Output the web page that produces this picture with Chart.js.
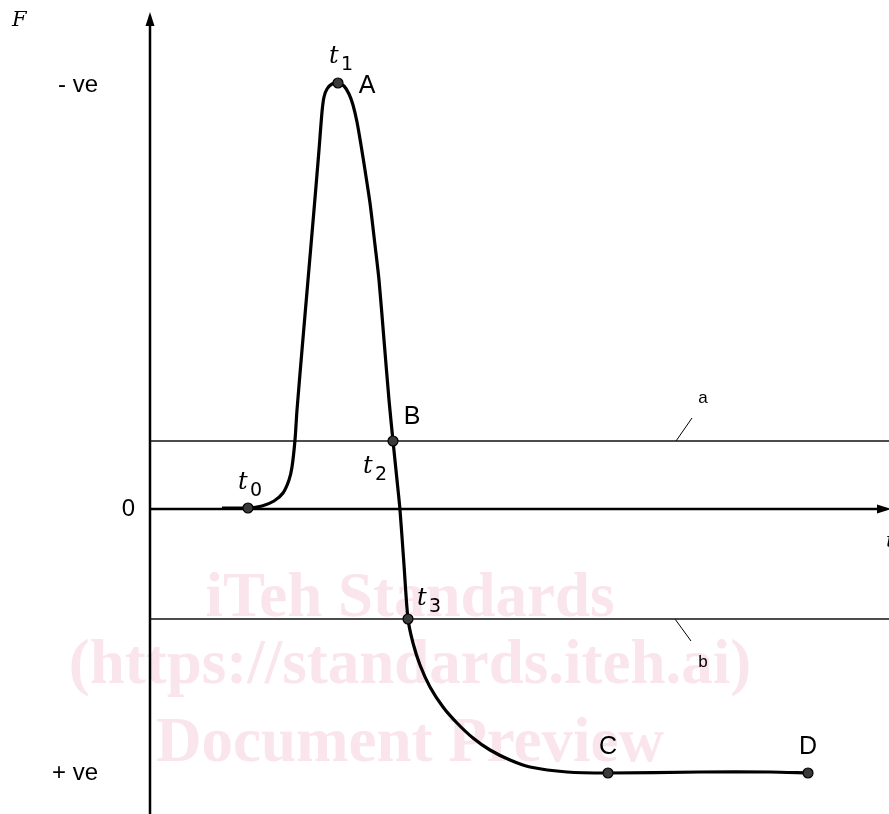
<!DOCTYPE html>
<html>
<head>
<meta charset="utf-8">
<script src="https://cdn.jsdelivr.net/npm/chart.js"></script>
<style>
  html, body { margin: 0; padding: 0; background: #fff; overflow: hidden; }
  canvas { display: block; }
</style>
</head>
<body>
<canvas id="myChart" width="889" height="814"></canvas>
<script>
// 시간 (임의 단위) 과 힘 F (위쪽이 - ve)
const timeValues = [7.2, 9.8, 11.2, 12.4, 13.3, 13.9, 14.2, 14.5, 14.7, 15.2, 15.8, 16.4, 16.9, 17.2, 17.4, 17.7, 18.2, 18.8,
  19.4, 19.9, 20.3, 20.7, 21.1, 21.5, 22.0, 22.5, 22.9, 23.4, 23.9, 24.3, 24.7, 25.0, 25.4, 25.8,
  26.3, 27.0, 28.0, 29.3, 30.7, 32.3, 34.0, 36.0, 38.0, 41.7, 45.8, 55.0, 62.0, 65.8];
const forceValues = [-0.1, -0.1, -0.3, -0.8, -1.6, -2.9, -4.2, -6.9, -9.9, -15.9, -22.9, -29.9, -35.9, -39.7, -41.2, -42.0, -42.5, -42.6,
  -42.3, -41.5, -40.4, -38.7, -36.4, -33.9, -30.6, -26.4, -22.9, -16.9, -10.9, -6.8, -2.9, 0.1, 5.6, 11.0,
  13.4, 15.6, 17.8, 19.8, 21.4, 22.9, 24.1, 25.1, 25.8, 26.3, 26.4, 26.3, 26.3, 26.4];

// 표시점 t0, A(t1), B(t2), t3, C, D
const markerNames = ['t0', 'A', 'B', 't3', 'C', 'D'];
const markerTimes = [9.8, 18.8, 24.3, 25.8, 45.8, 65.8];
const markerForces = [-0.1, -42.6, -6.8, 11.0, 26.4, 26.4];

// 기준선 a, b
const levelNames = ['a', 'b'];
const levelForces = [-6.8, 11.0];

const axisLabels = { top: '- ve', zero: '0', bottom: '+ ve', y: 'F', x: 't' };
const watermarkLines = ['iTeh Standards', '(https://standards.iteh.ai)', 'Document Preview'];

const xMin = 0, xMax = 73.9;
const yMin = -49.7, yMax = 30.5;

const SANS = '"Liberation Sans", Arial, sans-serif';
Chart.defaults.font.family = SANS;

const curve = timeValues.map((t, i) => ({ x: t, y: forceValues[i] }));
const markers = markerTimes.map((t, i) => ({ x: t, y: markerForces[i] }));

const levelSets = levelForces.map(f => ({
  type: 'line',
  data: [{ x: xMin, y: f }, { x: xMax, y: f }],
  borderColor: '#111',
  borderWidth: 1.3,
  pointRadius: 0,
  order: 3
}));

function drawT(ctx, sub, x, y) {
  ctx.font = 'italic 24px "DejaVu Serif", serif';
  ctx.textAlign = 'left';
  ctx.textBaseline = 'alphabetic';
  ctx.fillText('t', x, y);
  ctx.font = '19px "DejaVu Sans", sans-serif';
  ctx.fillText(sub, x + 12, y + 7);
}

const decor = {
  id: 'decor',
  beforeDatasetsDraw(chart) {
    const ctx = chart.ctx;
    const xs = chart.scales.x, ys = chart.scales.y;
    const cx = xs.getPixelForValue(26.0);
    ctx.save();
    // 워터마크
    ctx.fillStyle = 'rgba(232, 150, 175, 0.25)';
    ctx.font = 'bold 63px "Liberation Serif", "Times New Roman", serif';
    ctx.textAlign = 'center';
    ctx.textBaseline = 'middle';
    ctx.fillText(watermarkLines[0], cx, ys.getPixelForValue(9.1));
    ctx.fillText(watermarkLines[1], cx, ys.getPixelForValue(15.8));
    ctx.fillText(watermarkLines[2], cx, ys.getPixelForValue(23.6));

    // 축
    const x0 = xs.getPixelForValue(0);
    const y0 = ys.getPixelForValue(0);
    ctx.strokeStyle = '#000';
    ctx.fillStyle = '#000';
    ctx.lineWidth = 2.5;
    ctx.beginPath();
    ctx.moveTo(x0, chart.height);
    ctx.lineTo(x0, ys.top + 8);
    ctx.moveTo(x0, y0);
    ctx.lineTo(xs.right - 8, y0);
    ctx.stroke();
    ctx.beginPath();
    ctx.moveTo(x0, ys.top);
    ctx.lineTo(x0 - 4.5, ys.top + 14);
    ctx.lineTo(x0 + 4.5, ys.top + 14);
    ctx.closePath();
    ctx.fill();
    ctx.beginPath();
    ctx.moveTo(xs.right + 2, y0);
    ctx.lineTo(xs.right - 12, y0 - 4.5);
    ctx.lineTo(xs.right - 12, y0 + 4.5);
    ctx.closePath();
    ctx.fill();

    // a, b 지시선
    const lx = xs.getPixelForValue(52.6);
    ctx.lineWidth = 1;
    ctx.beginPath();
    const ya = ys.getPixelForValue(levelForces[0]);
    const yb = ys.getPixelForValue(levelForces[1]);
    ctx.moveTo(lx, ya);
    ctx.lineTo(lx + 16, ya - 23);
    ctx.moveTo(lx - 1, yb);
    ctx.lineTo(lx + 15, yb + 22);
    ctx.stroke();
    ctx.font = '17px ' + SANS;
    ctx.textAlign = 'center';
    ctx.textBaseline = 'middle';
    ctx.fillText(levelNames[0], lx + 27, ya - 43);
    ctx.fillText(levelNames[1], lx + 27, yb + 43);
    ctx.restore();
  },
  afterDraw(chart) {
    const ctx = chart.ctx;
    const xs = chart.scales.x, ys = chart.scales.y;
    ctx.save();
    ctx.fillStyle = '#000';
    ctx.font = '24px ' + SANS;
    ctx.textBaseline = 'middle';
    ctx.textAlign = 'right';
    ctx.fillText(axisLabels.top, 98, ys.getPixelForValue(-42.4));
    ctx.fillText(axisLabels.zero, 135, ys.getPixelForValue(0));
    ctx.fillText(axisLabels.bottom, 98, ys.getPixelForValue(26.4));

    ctx.font = 'italic 21px "DejaVu Serif", serif';
    ctx.textAlign = 'left';
    ctx.fillText(axisLabels.y, 12, 21);
    ctx.fillText(axisLabels.x, 886, 542);

    // 점 라벨
    ctx.font = '25px ' + SANS;
    ctx.textAlign = 'center';
    const px = i => xs.getPixelForValue(markerTimes[i]);
    const py = i => ys.getPixelForValue(markerForces[i]);
    ctx.fillText('A', px(1) + 29, py(1) + 3);
    ctx.fillText('B', px(2) + 19, py(2) - 24);
    ctx.fillText('C', px(4), py(4) - 26);
    ctx.fillText('D', px(5), py(5) - 26);

    drawT(ctx, '0', px(0) - 10, py(0) - 19);
    drawT(ctx, '1', px(1) - 9, py(1) - 20);
    drawT(ctx, '2', px(2) - 30, py(2) + 32);
    drawT(ctx, '3', px(3) + 9, py(3) - 14);
    ctx.restore();
  }
};

const chart = new Chart(document.getElementById('myChart'), {
  type: 'scatter',
  data: {
    datasets: [
      {
        type: 'line',
        data: curve,
        borderColor: '#000',
        borderWidth: 3.2,
        pointRadius: 0,
        tension: 0.25,
        fill: false,
        order: 2
      },
      {
        type: 'scatter',
        data: markers,
        pointRadius: 5,
        pointBackgroundColor: '#3a3a3a',
        pointBorderColor: '#000',
        pointBorderWidth: 1.2,
        order: 1
      },
      ...levelSets
    ]
  },
  options: {
    responsive: false,
    animation: false,
    events: [],
    layout: { autoPadding: false, padding: { left: 150, right: 0, top: 12, bottom: 0 } },
    plugins: { legend: { display: false }, tooltip: { enabled: false } },
    scales: {
      x: { type: 'linear', display: false, min: xMin, max: xMax },
      y: { type: 'linear', display: false, min: yMin, max: yMax, reverse: true }
    }
  },
  plugins: [decor]
});

// 폰트 로딩 후 다시 그리기
if (document.fonts) {
  Promise.all([
    document.fonts.load('21px "Liberation Sans"'),
    document.fonts.load('bold 63px "Liberation Serif"'),
    document.fonts.load('italic 21px "DejaVu Serif"')
  ]).then(() => chart.draw()).catch(() => {});
}
</script>
</body>
</html>
